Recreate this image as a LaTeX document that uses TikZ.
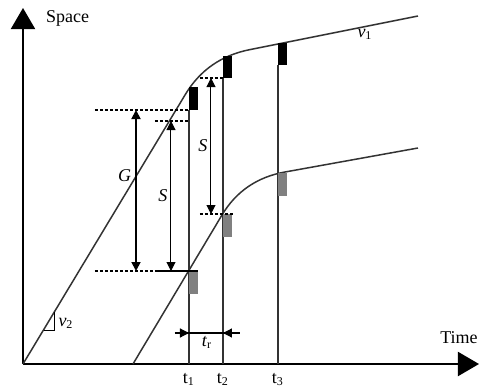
\documentclass[tikz,border=0pt]{standalone}
\usepackage{fontspec}
\setmainfont{Liberation Serif}
\usetikzlibrary{arrows.meta, positioning, calc}

\tikzset{
  eje/.style={line width=1pt, -{Triangle[width=12pt, length=10.5pt]}},
  tray/.style={line width=0.75pt, black!80},
  guia/.style={dash pattern=on 1.5pt off 1pt, line width=0.6pt},
  lider/.style={fill=black},
  seguidor/.style={fill=black!50}
}

\begin{document}
\begin{tikzpicture}[x=0.5pt, y=-0.5pt, >={Triangle[width=4.5pt, length=4.5pt]}, font=\fontsize{9}{11}\selectfont]
    \useasboundingbox (0,0) rectangle (479,392);

    % Ejes
    \coordinate (O) at (23,364);
    \coordinate (Ytop) at (23,8);
    \coordinate (Xend) at (479,364);
    \draw[eje] (O) -- (Ytop);
    \draw[eje] (O) -- (Xend);
    \node[right] (space) at (39,18) {Space};
    \node (time) at (459,338) {Time};

    % Trayectorias
    \coordinate (F0) at (133,364);
    \draw[tray] (O) -- (185,95) .. controls (199.7,70.3) and (221.3,55.2) .. (250,49.6) -- (418,16);
    \draw[tray] (F0) -- (222,215) .. controls (236.2,191.3) and (257.2,177) .. (285,172) -- (418,148);
    \node (v1) at (365,34) {\textit{v}\textsubscript{1}};

    % Pendiente
    \draw[line width=0.5pt] (44,330) -- (55,330) -- (55,312);
    \node (v2) at (66,323) {\textit{v}\textsubscript{2}};

    % Instantes y vehiculos
    \foreach \n/\x/\la/\lb/\fa in {1/189/87/110/271, 2/223/56/78/214, 3/278/43/65/173} {
        \coordinate (t\n) at (\x,364);
        \draw[tray] (t\n) -- (\x,\lb);
        \fill[lider] (\x,\la) rectangle (\x+9,\lb);
        \fill[seguidor] (\x,\fa) rectangle (\x+9,\fa+23);
        \node[below=1pt] (lt\n) at (t\n) {t\textsubscript{\n}};
    }

    % Lineas de referencia discontinuas
    \draw[guia] (95,110) -- (189,110);
    \draw[guia] (155,121) -- (189,121);
    \draw[guia] (95,271) -- (189,271);
    \draw[line width=0.6pt] (155,271) -- (198,271);
    \draw[guia] (200,78) -- (223,78);
    \draw[guia] (200,214) -- (233,214);

    % Flechas de distancia
    \coordinate (Ga) at (136,110);
    \coordinate (Gb) at (136,271);
    \coordinate (Sa) at (171,121);
    \coordinate (Sb) at (171,271);
    \coordinate (Sc) at (211,78);
    \coordinate (Sd) at (211,214);
    \draw[<->, line width=0.9pt] (Ga) -- (Gb) node[pos=0.41, left, inner sep=2pt] {\textit{G}};
    \draw[<->, line width=0.5pt] (Sa) -- (Sb) node[midway, left, inner sep=1.5pt] {\textit{S}};
    \draw[<->, line width=0.5pt] (Sc) -- (Sd) node[midway, left, inner sep=1.5pt] {\textit{S}};

    % Tiempo de reaccion
    \coordinate (Ra) at (175,333);
    \coordinate (Rb) at (240,333);
    \draw[line width=0.6pt] (Ra) -- (Rb);
    \draw[->, line width=0.6pt] (Ra) -- (t1 |- Ra);
    \draw[->, line width=0.6pt] (Rb) -- (t2 |- Rb);
    \node (tr) at (207,342) {\textit{t}\textsubscript{r}};
\end{tikzpicture}
\end{document}
